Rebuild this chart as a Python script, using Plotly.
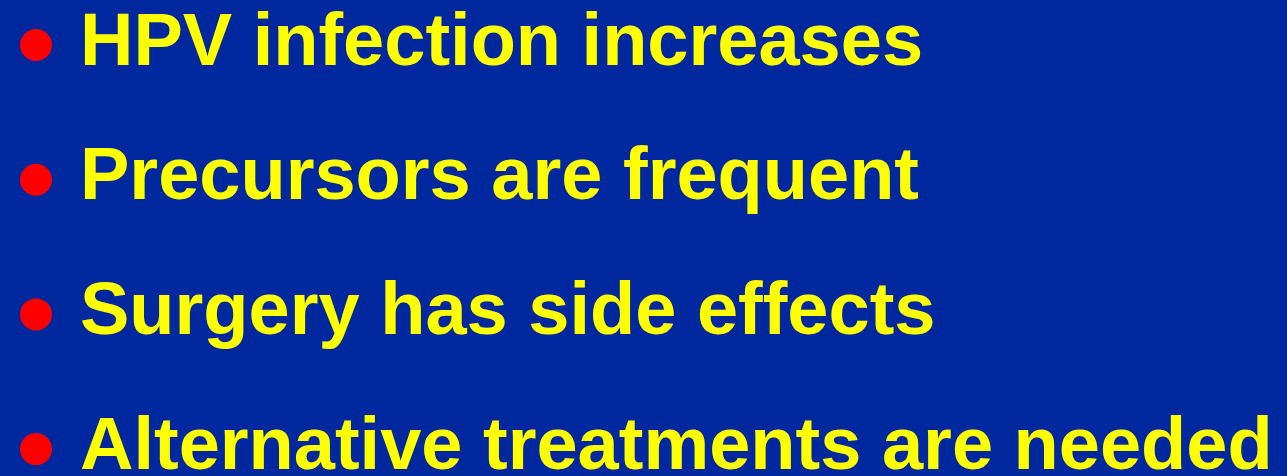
import plotly.graph_objects as go

bullets = [
    "HPV infection increases",
    "Precursors are frequent",
    "Surgery has side effects",
    "Alternative treatments are needed",
]
rows = list(range(len(bullets)))

W, H = 1287, 476
top, step = 45, 134.7
ys = [top + r * step for r in rows]

fig = go.Figure()
fig.add_trace(go.Scatter(
    x=[36] * len(rows), y=ys, mode="markers",
    marker=dict(color="#FF0000", size=32, line=dict(width=0)),
    hoverinfo="skip", showlegend=False,
))
for txt, y in zip(bullets, ys):
    fig.add_annotation(
        x=78, y=y - 6, text="<b>" + txt + "</b>", showarrow=False,
        xanchor="left", yanchor="middle", xref="x", yref="y",
        font=dict(family="Liberation Sans, Arial", size=74, color="#FFFF00"),
    )

fig.update_layout(
    width=W, height=H, margin=dict(l=0, r=0, t=0, b=0),
    paper_bgcolor="#00289E", plot_bgcolor="#00289E",
    xaxis=dict(range=[0, W], visible=False, fixedrange=True),
    yaxis=dict(range=[H, 0], visible=False, fixedrange=True),
)
fig.write_html(
    "out.html",
    config={"displayModeBar": False},
    post_script="document.body.style.margin='0';document.body.style.overflow='hidden';",
)
